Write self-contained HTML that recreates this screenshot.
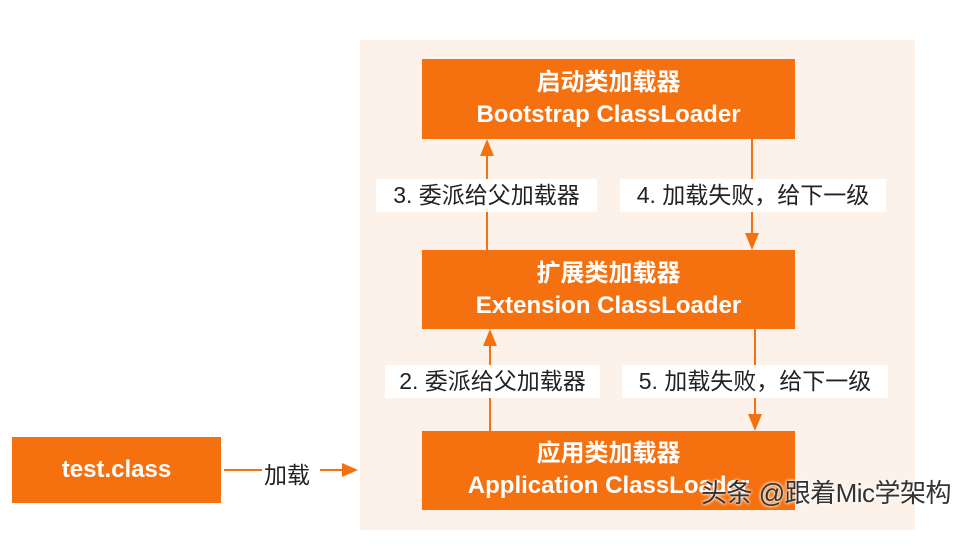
<!DOCTYPE html>
<html><head><meta charset="utf-8"><style>
body{margin:0;width:964px;height:548px;background:#fff;position:relative;overflow:hidden;font-family:"Liberation Sans","Noto Sans CJK SC",sans-serif}
.a{position:absolute}
.box{position:absolute;background:#f5710f;color:#fff;text-align:center;font-size:24px;font-weight:bold;line-height:32px;box-sizing:border-box;white-space:nowrap}
.lbl{position:absolute;background:#fff;color:#222;font-size:23px;line-height:33px;text-align:center;white-space:nowrap}
</style></head><body>
<div class="a" style="left:360px;top:40px;width:555px;height:490px;background:#fdf2ea"></div>
<div class="box" style="left:422px;top:59px;width:373px;height:80px;padding-top:8px">启动类加载器<br>Bootstrap ClassLoader</div>
<div class="box" style="left:422px;top:250px;width:373px;height:79px;padding-top:8px">扩展类加载器<br>Extension ClassLoader</div>
<div class="box" style="left:422px;top:431px;width:373px;height:79px;padding-top:7px">应用类加载器<br>Application ClassLoader</div>
<div class="box" style="left:12px;top:437px;width:209px;height:66px;line-height:66px">test.class</div>
<svg class="a" style="left:0;top:0" width="964" height="548">
<g stroke="#f5710f" stroke-width="2" fill="#f5710f">
<line x1="487" y1="250" x2="487" y2="152"/><polygon points="480,156 494,156 487,139" stroke="none"/>
<line x1="752" y1="139" x2="752" y2="236"/><polygon points="745,233 759,233 752,250" stroke="none"/>
<line x1="490" y1="431" x2="490" y2="342"/><polygon points="483,346 497,346 490,329" stroke="none"/>
<line x1="755" y1="329" x2="755" y2="418"/><polygon points="748,414 762,414 755,431" stroke="none"/>
<line x1="224" y1="470" x2="262" y2="470"/><line x1="320" y1="470" x2="345" y2="470"/>
<polygon points="342,463 342,477 358,470" stroke="none"/>
</g></svg>
<div class="lbl" style="left:376px;top:179px;width:221px">3. 委派给父加载器</div>
<div class="lbl" style="left:620px;top:179px;width:266px">4. 加载失败，给下一级</div>
<div class="lbl" style="left:385px;top:365px;width:215px">2. 委派给父加载器</div>
<div class="lbl" style="left:622px;top:365px;width:266px">5. 加载失败，给下一级</div>
<div class="a" style="left:264px;top:456px;font-size:23px;color:#222">加载</div>
<div class="a" style="left:701px;top:473px;font-size:26px;color:#333;text-shadow:0 0 3px #fff,0 0 3px #fff;white-space:nowrap;letter-spacing:-0.5px">头条 @跟着Mic学架构</div>
</body></html>
